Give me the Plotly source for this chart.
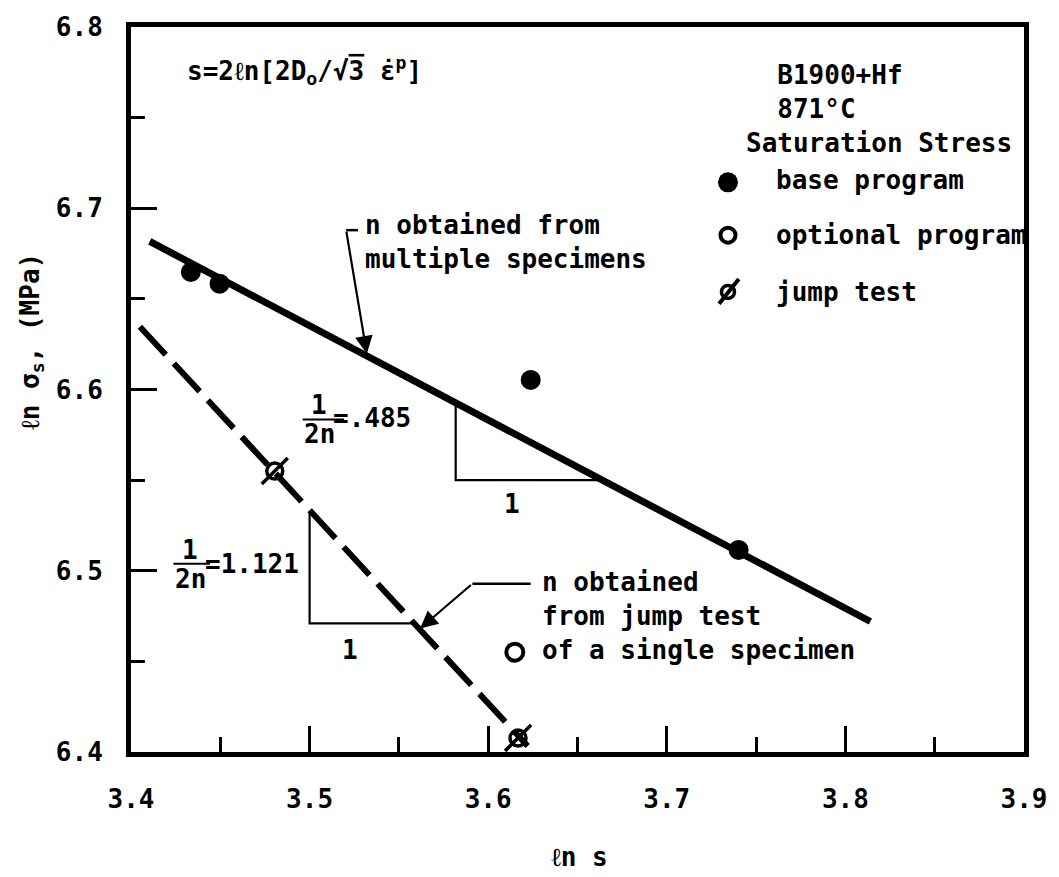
import plotly.graph_objects as go

# ---------------- data ----------------
base_x = [3.4335, 3.4496, 3.6238, 3.7402]
base_y = [6.6648, 6.6584, 6.6053, 6.5115]
opt_x = [3.6149]
opt_y = [6.4551]
jump_x = [3.4805, 3.6167]
jump_y = [6.5550, 6.4077]
fit_multi_x = [3.4105, 3.8140]
fit_multi_y = [6.6817, 6.4720]
fit_jump_x = [3.4050, 3.6221]
fit_jump_y = [6.6346, 6.4033]
tri_multi_x = [3.5818, 3.5818, 3.6640]
tri_multi_y = [6.5927, 6.5500, 6.5500]
tri_jump_x = [3.5000, 3.5000, 3.5590]
tri_jump_y = [6.5330, 6.4710, 6.4710]
x_ticks = [3.4, 3.5, 3.6, 3.7, 3.8, 3.9]
y_ticks = [6.4, 6.5, 6.6, 6.7, 6.8]
x_ticktext = ["3.4", "3.5", "3.6", "3.7", "3.8", "3.9"]
y_ticktext = ["6.4", "6.5", "6.6", "6.7", "6.8"]

FONT = "DejaVu Sans Mono"
FS = 26
FW = 600
BLACK = "black"

# pixel -> data / paper helpers for placing text/decoration
L, R, T, B = 131, 23, 24, 125
W, H = 1059, 877
PW, PH = W - L - R, H - T - B
def dx(px):
    return 3.4 + (px - L) / PW * 0.5
def dy(py):
    return 6.8 - (py - T) / PH * 0.4
def paper_x(px):
    return (px - L) / PW
def paper_y(py):
    return (H - B - py) / PH

fig = go.Figure()

# fitted lines
fig.add_trace(go.Scatter(x=fit_multi_x, y=fit_multi_y, mode="lines",
                         line=dict(color=BLACK, width=7), showlegend=False, hoverinfo="skip"))
fig.add_trace(go.Scatter(x=fit_jump_x, y=fit_jump_y, mode="lines",
                         line=dict(color=BLACK, width=6, dash="38px,12px"), showlegend=False,
                         hoverinfo="skip"))
# slope triangles
fig.add_trace(go.Scatter(x=tri_multi_x, y=tri_multi_y, mode="lines",
                         line=dict(color=BLACK, width=2.2), showlegend=False, hoverinfo="skip"))
fig.add_trace(go.Scatter(x=tri_jump_x, y=tri_jump_y, mode="lines",
                         line=dict(color=BLACK, width=2.2), showlegend=False, hoverinfo="skip"))

# data markers
fig.add_trace(go.Scatter(x=base_x, y=base_y, mode="markers", name="base program",
                         marker=dict(symbol="circle", size=20, color=BLACK), showlegend=False))
fig.add_trace(go.Scatter(x=opt_x, y=opt_y, mode="markers", name="optional program",
                         marker=dict(symbol="circle-open", size=17, color=BLACK,
                                     line=dict(width=4, color=BLACK)), showlegend=False))
fig.add_trace(go.Scatter(x=jump_x, y=jump_y, mode="markers", name="jump test",
                         marker=dict(symbol="circle-open", size=16, color=BLACK,
                                     line=dict(width=3.5, color=BLACK)), showlegend=False,
                         cliponaxis=False))
fig.add_trace(go.Scatter(x=jump_x, y=jump_y, mode="markers", name="jump test slash",
                         marker=dict(symbol="line-ne", size=26, color=BLACK,
                                     line=dict(width=3.5, color=BLACK)), showlegend=False,
                         cliponaxis=False, hoverinfo="skip"))

ann = []
shapes = []

def text(px, py, s, anchor="left", size=FS, **kw):
    ann.append(dict(x=paper_x(px), y=paper_y(py), xref="paper", yref="paper", text=s,
                    showarrow=False, xanchor=anchor, yanchor="middle", align=anchor,
                    font=dict(family=FONT, size=size, color=BLACK, weight=FW), **kw))

# formula
text(186, 68, "s=2ℓn[2D<sub>o</sub>/√<span style='text-decoration:overline'>3</span> ε̇<sup>p</sup>]")

# legend block
text(752, 106, "&nbsp;&nbsp;B1900+Hf<br>&nbsp;&nbsp;871°C<br>Saturation Stress")
text(783, 178, "base program")
text(783, 233, "optional program")
text(783, 290, "jump test")

def circ(px, py, d, filled, lw=4):
    shapes.append(dict(type="circle", xref="paper", yref="paper", xsizemode="pixel",
                       ysizemode="pixel", xanchor=paper_x(px), yanchor=paper_y(py),
                       x0=-d / 2, x1=d / 2, y0=-d / 2, y1=d / 2,
                       fillcolor=BLACK if filled else "rgba(0,0,0,0)",
                       line=dict(color=BLACK, width=0 if filled else lw)))

def seg(x0, y0, x1, y1, w=2.2):
    shapes.append(dict(type="line", xref="paper", yref="paper", x0=paper_x(x0), y0=paper_y(y0),
                       x1=paper_x(x1), y1=paper_y(y1), line=dict(color=BLACK, width=w)))

circ(736, 180, 20, True)
circ(736, 233, 15, False, 4)
circ(736, 290, 13, False, 3.5)
seg(727, 302, 747, 277, 4)

# annotation "n obtained from multiple specimens"
text(366, 240, "n obtained from<br>multiple specimens")
seg(349, 228, 361, 228, 2.5)
ann.append(dict(x=dx(370), y=dy(352), xref="x", yref="y", ax=dx(349), ay=dy(228),
                axref="x", ayref="y", text="", showarrow=True, arrowhead=2, arrowsize=1.6,
                arrowwidth=2.2, arrowcolor=BLACK, standoff=0))

# annotation "n obtained from jump test of a single specimen"
text(545, 615, "n obtained<br>from jump test<br>of a single specimen")
seg(477, 583, 536, 583, 2.5)
ann.append(dict(x=dx(424), y=dy(628), xref="x", yref="y", ax=dx(477), ay=dy(583),
                axref="x", ayref="y", text="", showarrow=True, arrowhead=2, arrowsize=1.6,
                arrowwidth=2.2, arrowcolor=BLACK, standoff=0))

# slope labels
text(322, 404, "1", anchor="center")
text(322, 433, "2n", anchor="center")
seg(305, 418, 347, 418, 2)
text(334, 417, "=.485")
text(517, 503, "1", anchor="center")

text(191, 549, "1", anchor="center")
text(191, 578, "2n", anchor="center")
seg(174, 563, 211, 563, 2)
text(204, 563, "=1.121")
text(353, 650, "1", anchor="center")

# axis titles
ann.append(dict(x=paper_x(30), y=paper_y(340), xref="paper", yref="paper",
                text="ℓn σ<sub>s</sub>, (MPa)", showarrow=False, textangle=-90,
                xanchor="center", yanchor="middle",
                font=dict(family=FONT, size=FS, color=BLACK, weight=FW)))
text(586, 857, "ℓn s", anchor="center")

tickfont = dict(family=FONT, size=FS, color=BLACK, weight=FW)
fig.update_layout(
    width=W, height=H,
    margin=dict(l=L, r=R, t=T, b=B),
    paper_bgcolor="white", plot_bgcolor="white",
    annotations=ann, shapes=shapes,
    font=dict(family=FONT, size=FS, color=BLACK),
    xaxis=dict(range=[3.4, 3.9], tickvals=x_ticks, ticktext=x_ticktext,
               ticks="inside", ticklen=26, tickwidth=3, tickcolor=BLACK,
               minor=dict(ticks="inside", ticklen=15, tickwidth=3, tickcolor=BLACK,
                          tick0=3.45, dtick=0.1),
               showline=True, linewidth=5, linecolor=BLACK, mirror=True,
               showgrid=False, zeroline=False, ticklabelstandoff=20,
               ticklabeloverflow="allow", tickfont=tickfont),
    yaxis=dict(range=[6.4, 6.8], tickvals=y_ticks, ticktext=y_ticktext,
               ticks="inside", ticklen=26, tickwidth=3, tickcolor=BLACK,
               minor=dict(ticks="inside", ticklen=14, tickwidth=3, tickcolor=BLACK,
                          tick0=6.45, dtick=0.1),
               showline=True, linewidth=5, linecolor=BLACK, mirror=True,
               showgrid=False, zeroline=False, ticklabelstandoff=18,
               ticklabeloverflow="allow", tickfont=tickfont),
)

fig.write_html("out.html")
